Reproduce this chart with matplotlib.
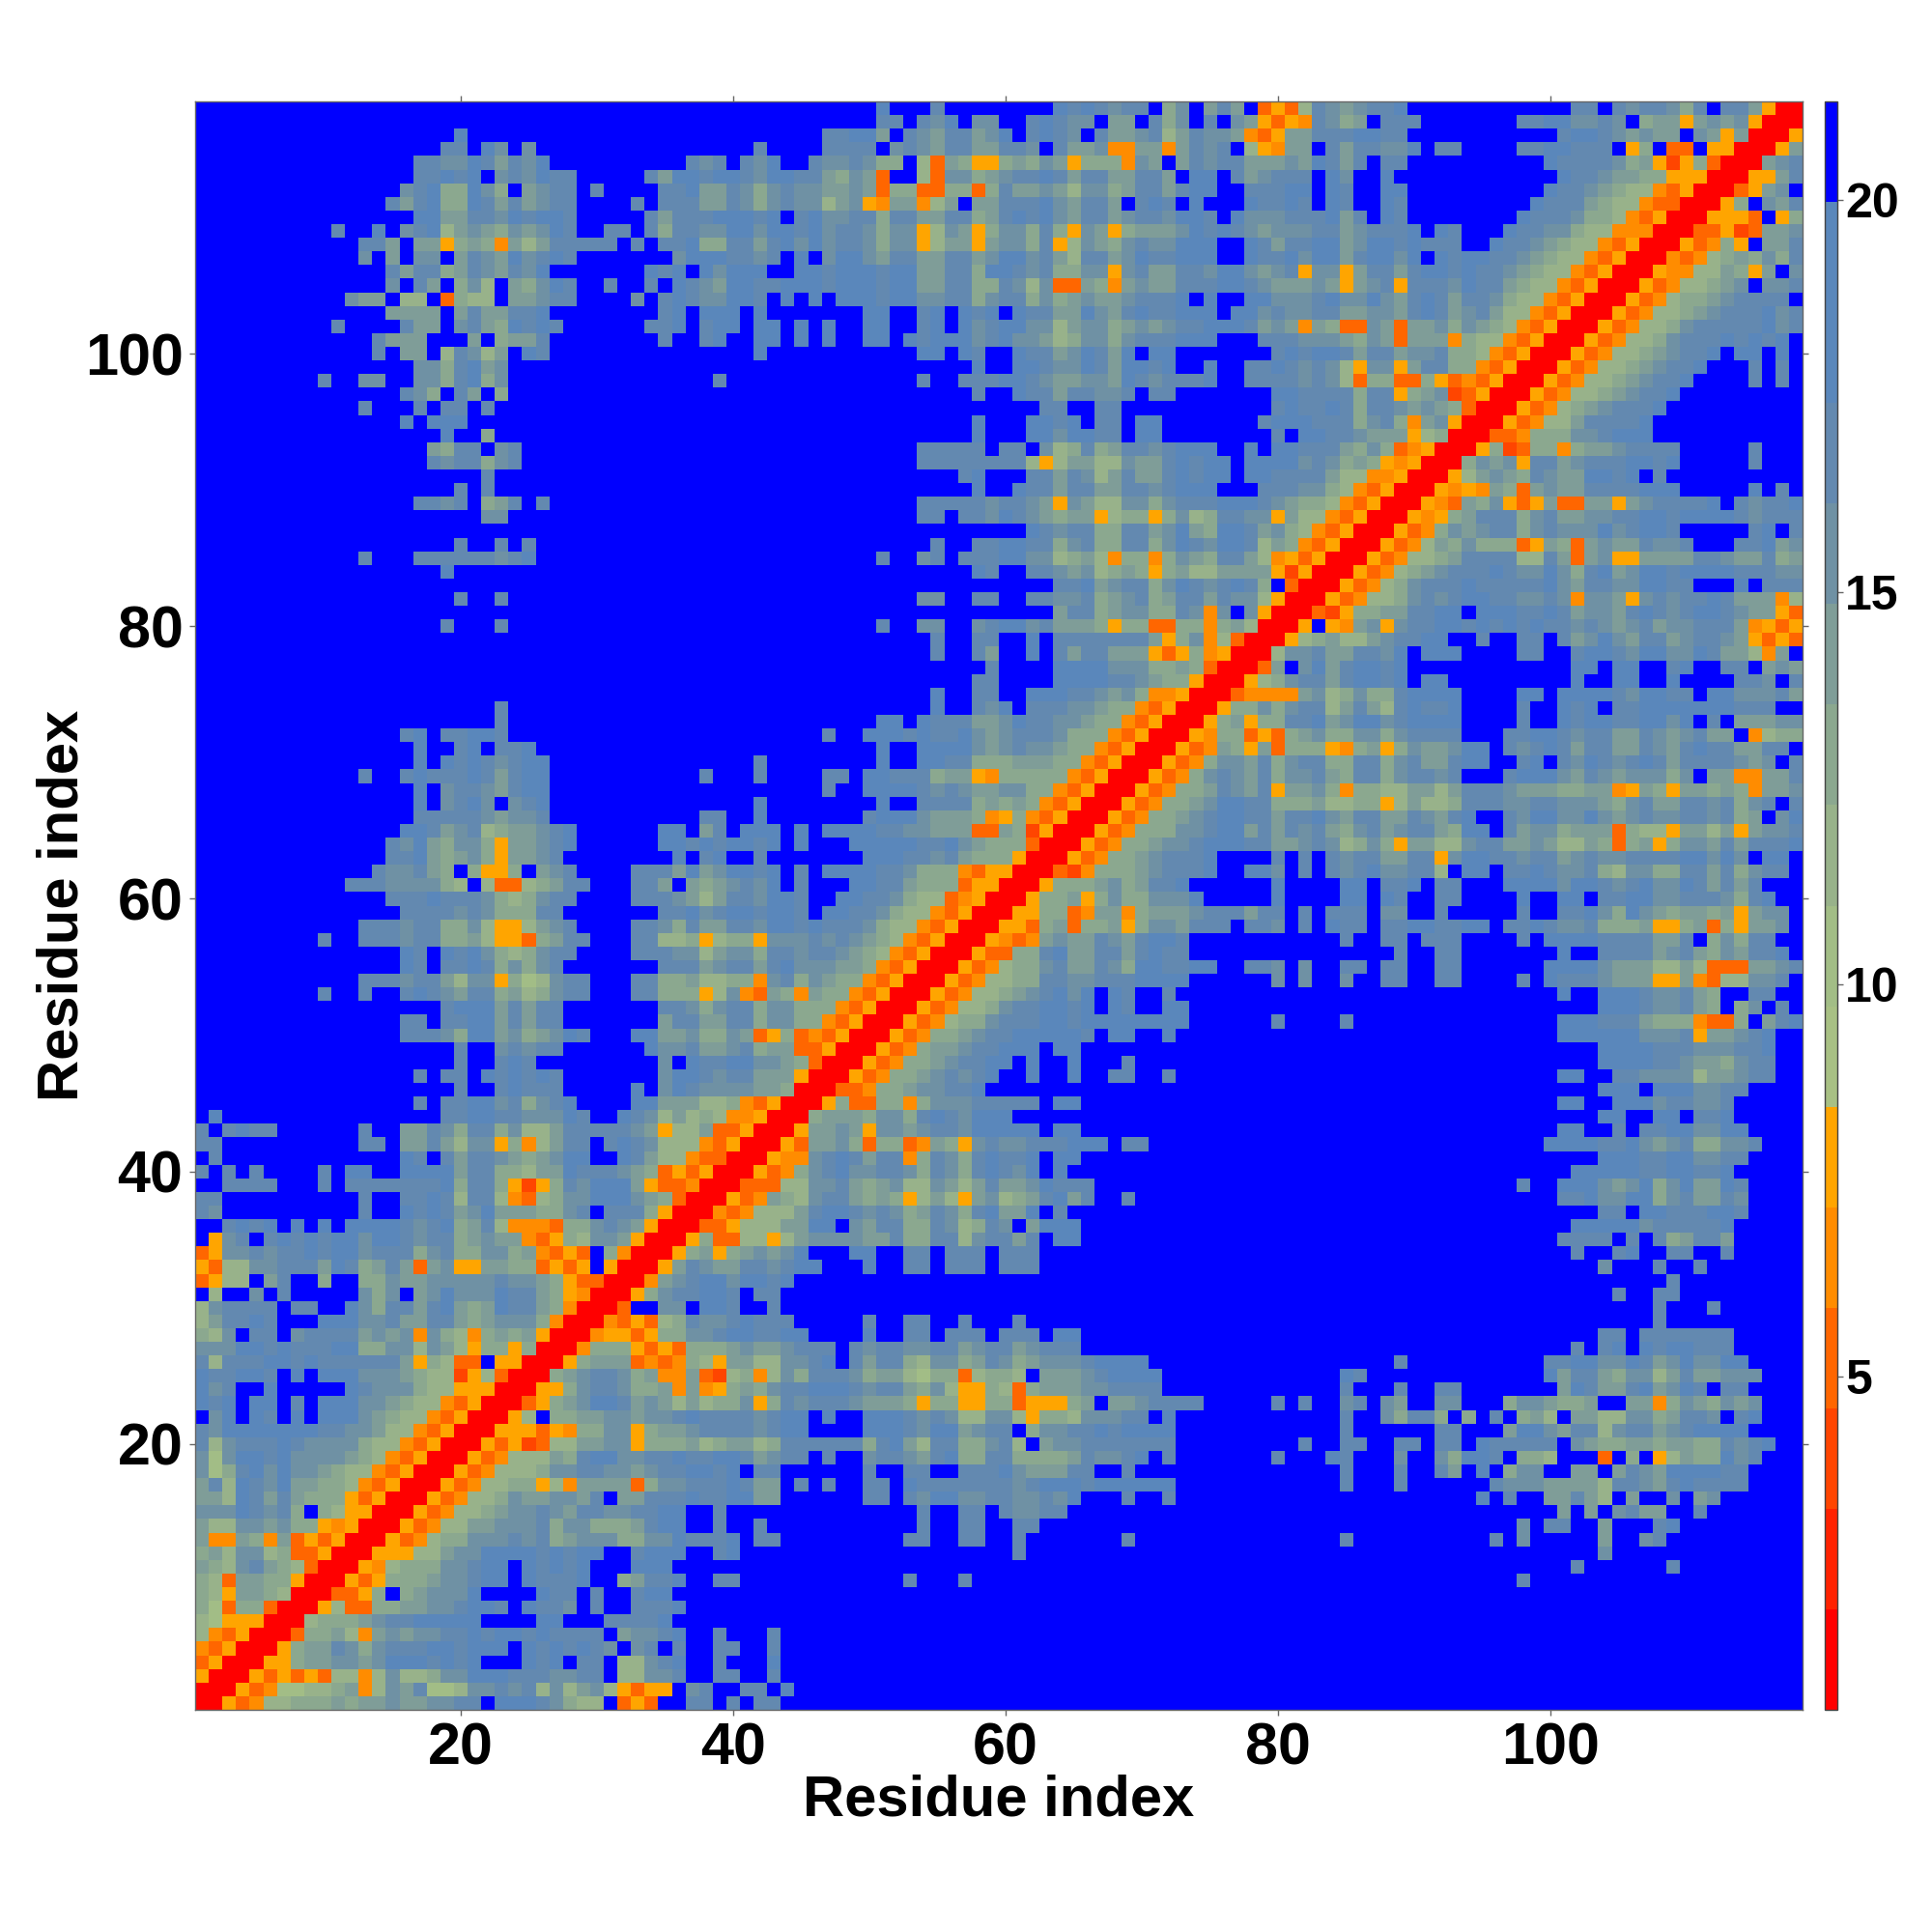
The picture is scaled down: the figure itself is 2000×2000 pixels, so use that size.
import matplotlib
matplotlib.use("Agg")
import matplotlib.pyplot as plt
from matplotlib.colors import ListedColormap
from matplotlib.cm import ScalarMappable
from matplotlib.colors import Normalize
import numpy as np

plt.rcParams['font.family'] = ['Liberation Sans', 'DejaVu Sans']
plt.rcParams['font.weight'] = 'bold'

# Upper triangle of the symmetric map, one string per residue, starting on the diagonal.
# Each chunk ends at the next multiple of ten, short chunks are padded with f, "-" is all f.
# Digits are the colour band: 0 red ... 5 orange, 6-e green to steel, f blue.
rows = [
"0053488999 a9aabaabbc cfdddcb988 f353ffccfc fcc",
"005347788 9a48bac778 bbcbc8b8ab 85355fbcff ccfd",
"00535353 8848b889bb dddcccbbcc f88bbcffcc ffc",
"00559aa bbabdddcdc dfffdcdfcc f88bcdffcf ffd",
"0059aa cb9bcccddc dddfdcdcdc bfbcfcffcc ffc",
"00399 a84ababbcc dcddcdcccc fabbcdffcf ffc",
"0089 99abccdddd dffffddfff ccccdfffff",
"005 83399aabbc ddcfdccbfc ffcccdffff",
"00 3359f9abbb dffffdccfc ffcddfffff",
"0 0535999abb cddfdcccdf f9accdffcc - ffcfffc - - - fffffffc",
"00548999bb cddfdcdcdf ffdddfffff - - - - - - fcffffffcf",
"0055588ab bddddcdcdd ffcdddffcd - - c - - - fffb",
"00534899 bbbcbc9abb b99bbdcccd fcc ffccffcc cfffffffcf - ffffc fffffcfb fffaffbc",
"0053488 aabbbc9bb9 99acddffcf fc fffcffcc cc - - fffffffbfc cffafffcd",
"005348 89abbcbacc bbccddffcf - fffcffccfc bbcc - - - afafbcaa c",
"00534 889baabbac faacccdccd daaffffffc cfcbddbbcc bbcbdfffcf fc - ffffdfcffa aca8faffbf ab",
"0053 48899584aa aa39bbcccd caafcfcffc cfdccccccc bcdddcdddd dd ffffcfffcf fffffcbbba aaa8ccbacd cccc",
"005 348889bbcc bbabccddcd fccffffffc ffccffcccd baaaccffcf - ffffcfffc fcafdf9bbf faafacbadd ddcc",
"00 534888a9cd dbbccdccdd cabccfcffb ccbacd99cc 9999acbbcd fcfffffffc fffdcfffbf fb9ddcf998 fff3f9f58a 99dbc",
"0 05352388aa bb5999a89a a89cccccc9 cda8cc99bc 8fabbccccc cc fcffccffcc fccfdccccc fba99aa9aa 99cbcd",
"0055535499 bb59aabccc cbcddffffd ddcbddabcc f9bbccdcdd dd ffffc fccfffaddb acc8bccabc dddd",
"0058f99aa bbabbcdccc cbcddfdffd ddcbcb88bb 85998bbbcc fd ffffcffb9c c9f9fcf9a8 faa88bb9ac cbfcd",
"00359abd dcaba8a899 b59cbcccba aa95995599 35559afaab ccccfffffc fcffbcfbaf fbbfff9bba 99affaa49b a9bab",
"00559bc cb99a4a459 a9bccdddcb cca9b85598 39aaabbccc c ffffcfffc fcc adcaacdabd cfcc",
"009abc cb9a44a328 948b9cccb9 aa87993899 8faaabcddd d ffffdc fffffffffd acca9bb8ac aabbb",
"0059a aa3434985a a88bbcdfca cc98bb9acb 9abbbcdddd - ffffffffc fffffffffc cddbbdcabd bbdd",
"0049 995353999a baabcccfcb ccbbccabcc abccc - - - fcfcdfdcdd ccc",
"004 553599bbcd dccddffffd ffccfcccfc ccfdd - - - fffccfcccc ccc",
"00 435389cbbc dcccfffffc ffccffc c - - - fffffffc",
"0 03ffbbfddc ffc - - - - - fffffffc fc",
"0059bccddc fcc - - - - - ffffcffcc",
"004abcddb ddcd - - - - - ffffffffc",
"005acbaa ccbcddfffd ffccfcccfc cc - - - fffbfffc c",
"0059a59 ababdfffdd ffccfcccfc cc - - - fcffcdffcc ffc",
"005933 8858abbbba ac99cc8bcc acfdd - - - ccccfcfc9a cca",
"00335 888aaddfba cc99cb89cb faddd - - - fdddddbccc ccd",
"0043 4888acddcb cb9acb9cda adfc - - - fffccfddcc cddc",
"005 34a98bcca9 a958a85ab8 9acdacffcf - - - ccdbbdd9bc aacb",
"00 33388bbca9 ab88ba8aca abdccc - - fffffffc dddbabd9bd aadc",
"0 05349bcdbb ccb9cb9cdc bdfd - - - fdddddccdd ccd",
"00544bcdca cc49cb9cdc cdfdd - - - fffdddccdd bbcc",
"0053aab93 9934a95bcb bcccdddfcc - - fffffffffd dddccdbabc 99bbc",
"005aaba5 bbabccbddd ddfdd - - - ddffcfccdd bbdd",
"009aaa9 bb9cdcbddd - - - - fffddffddf ccd",
"005933 9949bbbccc ccfdd - - - ddffdddbcc bbc",
"00334 99abbccdff - - - - fffdddfddd bbcc",
"0053 499abcbcdf fdffdffccf fc - - ddffccbbbb 8aabcc",
"005 3499abccdd fdffdfffcf - - - fffddddccb aa9bcc",
"00 5349aabccd ddfdd - - - fffddddccc bbbccd",
"0 053499abcc dddddcfddf fd - - ddddddbbbc 5aabcd",
"00534899bc ccddcddddd dddffffffc ffffc - dddccca999 4339facd",
"00534889b ccddcdfdcf fdd - - fffdddcbbc a9f9bfcf",
"00534889 abcdbdfdcf fc - - dffdddcbbc a9ffccff",
"0053488 99ccbbcccd dddffffffb fbffbffccf fccffffcfd cccbaaa55a 4388bbc",
"005348 99bcaacb9d dccddffccb fbffccfccf fccffffffd dddbaaa88a 8333aabc",
"00533 99cdaaccac dcc ffffffffc fcc dffccccabc a9baccd",
"0054 34abaacbac ddc ffffcffccf cccffffcfd dddccccaac f9b9cc",
"005 539a399a59 bbacccfccb fcfdccfccd dccddfccdc bbc999a559 a395aab",
"00 559934aa49 aaabcccacc fcfcccfbbf fcfffffcff ccdb9dba9a a9a5abb",
"0 0599a59b99 bbbdfffffd ffffddfdcf fccffffd ddfccddbbc ccb9cd",
"005999ab9a ccdffffffd ffffddfccd fccfffdddd bddcbcdbbd cacac",
"00324999a bcccdffddb fcfcbcdbbc c8fddfccdc bbc98bb99c cac9bcc",
"0053499a bcccdffffc fcfcbccaac c5bddccbcc abcbbccccd dbdbfdd",
"0053499 abbcdddcca abcb89b95a a88bccaaba 88a939a59b bacacccd",
"005349 99bbcddaca cbca9bcabc ca9ddfcabb 9aaa39885a a8a5abbc",
"00534 99abcddcca ccdbaccaac bacdffcbdd bbdbabcbbc cbc9afbd",
"0053 499abddcc9 99a889958a 889cccbbcc bbba9bcaac cbc9bcfc",
"005 3499acbac5 aab949988a a8acccbaaa 99aa45a95a a9a94aab",
"00 5349bcbac9 bbca9cc9bc cbcfffcddd bacbabbb9b faa44aac",
"0 05349bbac9 bcc99cc9bc aacddffcdf cbdcbcdcac cccbabfc",
"00534a95a3 999549a59b aabddfcbcd caccaacbac dccaaccf",
"005499353 9ab99bb9bc cccfffccdd cbccaacbab caaf4899",
"0059a599 ccdabddbcd dddffffcff dcddccddbd fcfaaabb",
"00599b9 bcc8aca8cd ccdffffcff dcdfccdddd dddcccff",
"003444 4ab89b99cd dddffffddf ddddcbddcc fddbbbca",
"00589 bccacddcdf dd fdffddffdf fffccbfc",
"003a fbdacddcdf - fddfddffcd ffccfaba",
"008 bbcaaccbdf dddffffccf fcddcbddbb dcaa84af",
"00 589a88abcc ddffcffccf cabdbaccab ccba5353",
"0 05f54ab5bc cddcdcdcdc cbcbabcabb ccca4535",
"0032599aac cddfdddccd cabbacdcbc ddcbaa53",
"00534889b cbcddccbbc b4bba5bcbc cdcaaa48",
"0053489b cccdcccccd baccbbddcc fffdfccc",
"0053489 abcccdcbbd b9cdabddcd dddcccbb",
"005348 89acccc88c a3ab55aaaa ccbaac9a",
"00534 8a9b99935a 93abaacbbc fffccdab",
"0053 49babcc9bc bbbdbcddcf ffffcdfc",
"005 459accc9bc aabbccddcd dddcbccc",
"00 543a9b535a 33aa5abccc cdfcbccd",
"0 05454a93ab aaccccdddf ffffdfcf",
"0058aba9cb aaddcdfcff",
"009bab5cc abcccddcdf ffffc",
"00592399 49aabccccf ffffc",
"0033499 9bbcdddfff",
"005348 8accccd",
"00534 89abcccd",
"0053 4889abccd",
"005 34889abccd ffffcfcf",
"00 534889abcc dfffcfcf",
"0 0534889abc cdfddfdf",
"00534889bc ccdcdcdf",
"00534889b cccccdbc",
"00534889 abcccdbc",
"0053489 9abccccf",
"005348 89abfbbc",
"00544 88a95afb",
"0043 489a9b9c",
"005 3495faac",
"00 33523aab",
"0 05553f59",
"0059fbac",
"0035abf",
"0055ac",
"00abc",
"005a",
"005",
"00",
"0",
]

band_colors = ["#ff0000", "#ff2200", "#ff4500", "#ff6600", "#ff8c00", "#ffa500",
               "#a8c084", "#a2bd86", "#98b28a", "#8ba88f", "#7f9d98", "#6f91a4",
               "#6389b0", "#5a87bb", "#5a87bb", "#0000ff"]
vmin = 0.75
vmax = 21.25
x_ticks = [20, 40, 60, 80, 100]
cbar_ticks = [5, 10, 15, 20]
n = len(rows)


def parse_rows():
    grid = np.full((n, n), 15, dtype=int)
    for r, text in enumerate(rows):
        col = r
        for chunk in text.split():
            end = (col // 10 + 1) * 10
            if chunk != "-":
                for i, ch in enumerate(chunk):
                    grid[r, col + i] = int(ch, 16)
                    grid[col + i, r] = int(ch, 16)
            col = end
    return grid


bands = parse_rows()
step = (vmax - vmin) / len(band_colors)
dist = vmin + (bands + 0.5) * step
cmap = ListedColormap(band_colors)
norm = Normalize(vmin, vmax)

fig = plt.figure(figsize=(20, 20), dpi=100)
ax = fig.add_axes([202 / 2000, 1 - 1770 / 2000, 1664 / 2000, 1665 / 2000])
ax.imshow(dist, origin="lower", extent=(0.5, n + 0.5, 0.5, n + 0.5), cmap=cmap, norm=norm,
          interpolation="nearest", aspect="auto")
ax.set_xticks(x_ticks)
ax.set_yticks(x_ticks)
ax.tick_params(top=True, right=True, length=4, width=1, color="#666666", labelsize=44, pad=5)
for s in ax.spines.values():
    s.set_color("#666666")
    s.set_linewidth(1)
fig.text(1034 / 2000, 1 - 1864 / 2000, "Residue index", fontsize=43, ha="center", va="center")
fig.text(65 / 2000, 1 - 937 / 2000, "Residue index", fontsize=43, ha="center", va="center", rotation=90)

cax = fig.add_axes([1889 / 2000, 1 - 1770 / 2000, 13 / 2000, 1665 / 2000])
cb = fig.colorbar(ScalarMappable(norm=norm, cmap=cmap), cax=cax, ticks=cbar_ticks)
cb.outline.set_edgecolor("#444444")
cb.outline.set_linewidth(1)
cax.tick_params(length=4, width=1, color="#666666", labelsize=36, pad=2)

fig.savefig("out.png", dpi=100)
